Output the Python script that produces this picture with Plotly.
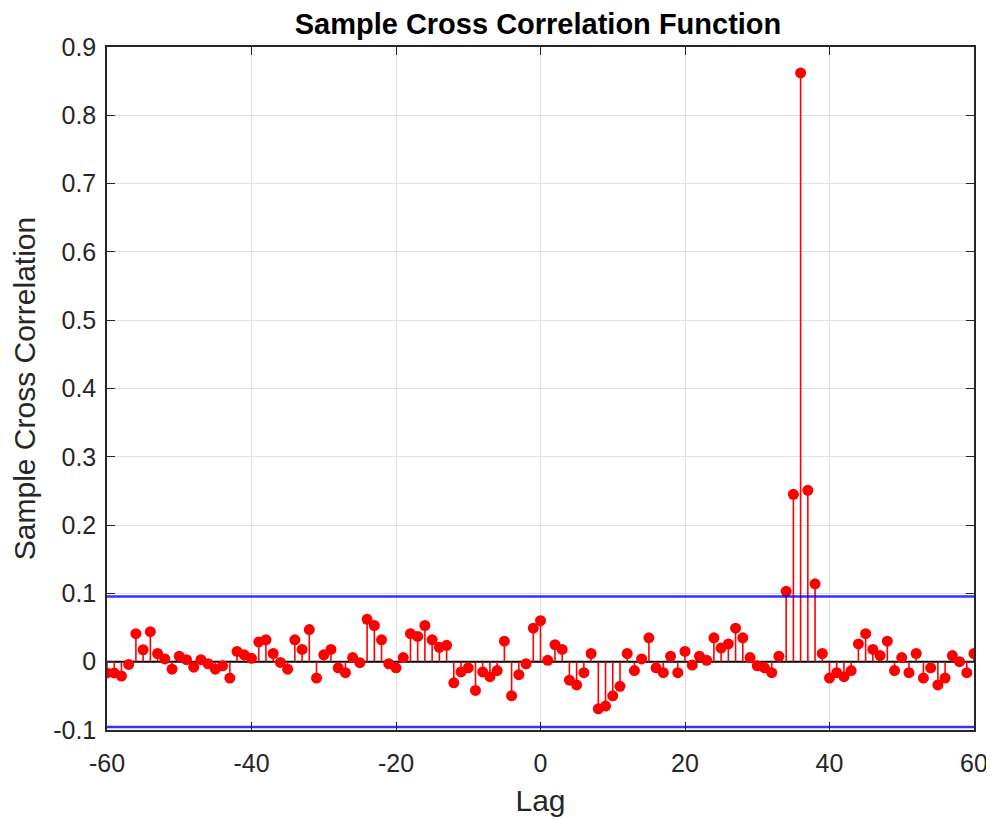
import plotly.graph_objects as go

# ---- data ----
lags = list(range(-60, 61))
xcf = [
    -0.0165, -0.0165, -0.021, -0.004, 0.041, 0.0175, 0.044, 0.012, 0.004, -0.011,   # -60..-51
    0.008, 0.003, -0.008, 0.003, -0.003, -0.011, -0.006, -0.024, 0.015, 0.010,      # -50..-41
    0.005, 0.029, 0.032, 0.012, -0.001, -0.011, 0.032, 0.018, 0.047, -0.024,        # -40..-31
    0.010, 0.018, -0.009, -0.016, 0.006, -0.0015, 0.062, 0.053, 0.032, -0.003,      # -30..-21
    -0.009, 0.006, 0.041, 0.037, 0.053, 0.032, 0.021, 0.024, -0.031, -0.015,        # -20..-11
    -0.009, -0.042, -0.015, -0.022, -0.013, 0.030, -0.050, -0.019, -0.003, 0.049,   # -10..-1
    0.060,                                                                          # 0
    0.002, 0.025, 0.018, -0.027, -0.034, -0.016, 0.012, -0.069, -0.065, -0.050,     # 1..10
    -0.036, 0.012, -0.013, 0.004, 0.035, -0.009, -0.016, 0.008, -0.016, 0.015,      # 11..20
    -0.005, 0.008, 0.002, 0.035, 0.020, 0.026, 0.049, 0.035, 0.006, -0.006,         # 21..30
    -0.009, -0.016, 0.008, 0.103, 0.245, 0.862, 0.251, 0.114, 0.012, -0.024,        # 31..40
    -0.016, -0.022, -0.013, 0.026, 0.041, 0.018, 0.009, 0.030, -0.013, 0.006,       # 41..50
    -0.016, 0.012, -0.024, -0.009, -0.034, -0.024, 0.009, 0.000, -0.016, 0.012,     # 51..60
]
bound = 0.0956
x_ticks = [-60, -40, -20, 0, 20, 40, 60]
x_tick_labels = ["-60", "-40", "-20", "0", "20", "40", "60"]
y_ticks = [-0.1, 0, 0.1, 0.2, 0.3, 0.4, 0.5, 0.6, 0.7, 0.8, 0.9]
y_tick_labels = ["-0.1", "0", "0.1", "0.2", "0.3", "0.4", "0.5", "0.6", "0.7", "0.8", "0.9"]

# ---- build stems ----
stem_x, stem_y = [], []
for lg, v in zip(lags, xcf):
    stem_x += [lg, lg, None]
    stem_y += [0, v, None]

xmin, xmax = min(lags), max(lags)
FONT = "Liberation Sans, Arial, sans-serif"

# page body has an 8px default margin; figure is sized to fill the rest
W, H = 986, 812

fig = go.Figure()
# baseline
fig.add_trace(go.Scatter(x=[xmin, xmax], y=[0, 0], mode="lines",
                         line=dict(color="black", width=2), hoverinfo="skip"))
# stems
fig.add_trace(go.Scatter(x=stem_x, y=stem_y, mode="lines",
                         line=dict(color="#ff0000", width=1.6), hoverinfo="skip"))
# markers
fig.add_trace(go.Scatter(x=lags, y=xcf, mode="markers",
                         marker=dict(color="#ff0000", size=11, line=dict(width=0))))
# confidence bounds
for b in (bound, -bound):
    fig.add_trace(go.Scatter(x=[xmin, xmax], y=[b, b], mode="lines",
                             line=dict(color="rgba(0,0,255,0.8)", width=2.5),
                             hoverinfo="skip"))

axis_common = dict(
    showline=True, linecolor="#262626", linewidth=1.5, mirror="ticks",
    ticks="inside", ticklen=8, tickwidth=1.2, tickcolor="#262626",
    showgrid=True, gridcolor="#dfdfdf", gridwidth=1, zeroline=False,
    automargin=False,
    tickfont=dict(family=FONT, size=25, color="#262626"),
)

fig.update_layout(
    width=W, height=H,
    paper_bgcolor="white", plot_bgcolor="white",
    showlegend=False,
    margin=dict(l=99, r=20, t=39, b=90),
    title=dict(text="<b>Sample Cross Correlation Function</b>",
               x=530 / W, xanchor="center", xref="container",
               y=1 - 16 / H, yanchor="middle", yref="container",
               font=dict(family=FONT, size=29, color="#000000")),
    xaxis=dict(range=[xmin, xmax], tickvals=x_ticks, ticktext=x_tick_labels,
               ticklabelstandoff=10,
               title=dict(text="Lag", standoff=14,
                          font=dict(family=FONT, size=30, color="#262626")),
               **axis_common),
    yaxis=dict(range=[-0.1, 0.9], tickvals=y_ticks, ticktext=y_tick_labels,
               ticklabelstandoff=4,
               title=dict(text="Sample Cross Correlation", standoff=14,
                          font=dict(family=FONT, size=30, color="#262626")),
               **axis_common),
)

fig.write_html("out.html")
